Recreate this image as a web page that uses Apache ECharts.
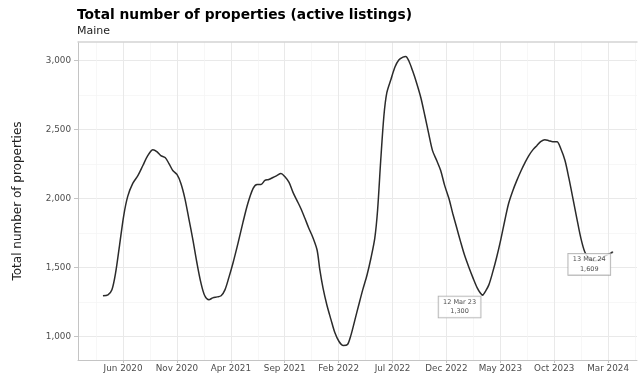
<!DOCTYPE html>
<html>
<head>
<meta charset="utf-8">
<script src="https://cdn.jsdelivr.net/npm/echarts@6/dist/echarts.min.js"></script>
<style>
html,body{margin:0;padding:0;background:#fff;}
#chart{width:644px;height:377px;}
</style>
</head>
<body>
<div id="chart"></div>
<script>
const dates = [
'2020-04-05','2020-04-19','2020-04-30','2020-05-11','2020-05-22','2020-06-03','2020-06-14','2020-06-28',
'2020-07-13','2020-07-27','2020-08-10','2020-08-25','2020-09-05','2020-09-16','2020-09-28','2020-10-09',
'2020-10-20','2020-11-01','2020-11-12','2020-11-23','2020-12-04','2020-12-16','2020-12-27','2021-01-08',
'2021-01-19','2021-01-31','2021-02-10','2021-02-21','2021-03-04','2021-03-15','2021-03-26','2021-04-07',
'2021-04-21','2021-05-05','2021-05-19','2021-06-03','2021-06-14','2021-06-25','2021-07-06','2021-07-17',
'2021-07-29','2021-08-10','2021-08-21','2021-09-01','2021-09-13','2021-09-24','2021-10-05','2021-10-16',
'2021-10-28','2021-11-08','2021-11-19','2021-12-01','2021-12-09','2021-12-18','2021-12-29','2022-01-10',
'2022-01-21','2022-02-02','2022-02-13','2022-02-24','2022-03-05','2022-03-17','2022-03-28','2022-04-08',
'2022-04-20','2022-05-01','2022-05-12','2022-05-20','2022-05-29','2022-06-07','2022-06-15','2022-06-27',
'2022-07-08','2022-07-19','2022-07-31','2022-08-08','2022-08-17','2022-08-28','2022-09-08','2022-09-20',
'2022-10-01','2022-10-12','2022-10-23','2022-11-04','2022-11-15','2022-11-26','2022-12-08','2022-12-19',
'2022-12-31','2023-01-11','2023-01-22','2023-02-03','2023-02-14','2023-02-25','2023-03-05','2023-03-12',
'2023-03-21','2023-03-30','2023-04-10','2023-04-21','2023-05-02','2023-05-14','2023-05-25','2023-06-06',
'2023-06-17','2023-06-29','2023-07-10','2023-07-21','2023-08-02','2023-08-13','2023-08-24','2023-09-05',
'2023-09-16','2023-09-27','2023-10-09','2023-10-20','2023-11-01','2023-11-12','2023-11-23','2023-12-04',
'2023-12-15','2023-12-27','2024-01-08','2024-01-25','2024-02-10','2024-02-25','2024-03-13'
];
const listings = [
1294,1301,1337,1467,1662,1878,2015,2109,
2167,2239,2311,2354,2340,2311,2297,2253,
2203,2174,2109,2001,1856,1698,1539,1387,
1294,1265,1279,1286,1294,1337,1424,1532,
1676,1828,1965,2073,2102,2102,2131,2138,
2152,2167,2181,2159,2116,2044,1986,1929,
1856,1784,1719,1626,1481,1351,1229,1121,
1027,962,933,940,1005,1121,1229,1337,
1445,1568,1712,1914,2275,2600,2766,2867,
2953,3004,3025,3030,2997,2924,2838,2729,
2600,2470,2347,2275,2203,2095,2001,1893,
1784,1683,1589,1503,1424,1351,1316,1300,
1330,1373,1467,1575,1698,1842,1965,2058,
2131,2203,2260,2311,2354,2383,2412,2426,
2419,2412,2412,2361,2275,2145,2001,1856,
1719,1611,1565,1548,1562,1588,1609
];
const tickLabels = ['Jun 2020','Nov 2020','Apr 2021','Sep 2021','Feb 2022','Jul 2022','Dec 2022','May 2023','Oct 2023','Mar 2024'];
const yTicks = [1000,1500,2000,2500,3000];
const monthNames = ['Jan','Feb','Mar','Apr','May','Jun','Jul','Aug','Sep','Oct','Nov','Dec'];

function monthIndex(s){
  const p = s.split('-').map(Number);
  const dim = new Date(p[0], p[1], 0).getDate();
  return (p[0]-2020)*12 + (p[1]-1) + (p[2]-1)/dim;
}
function labelMonth(lbl){
  const p = lbl.split(' ');
  return (Number(p[1])-2020)*12 + monthNames.indexOf(p[0]);
}
function fmtDate(s){
  const p = s.split('-');
  return p[2] + ' ' + monthNames[Number(p[1])-1] + ' ' + p[0].slice(2);
}
function fmtNum(v){ return v.toString().replace(/\B(?=(\d{3})+(?!\d))/g, ','); }

const xTickVals = tickLabels.map(labelMonth);
const xMinorVals = xTickVals.map(v=>v-2.5).concat([xTickVals[xTickVals.length-1]+2.5]).filter(v=>v>0.82 && v<52.68);
const yMinorVals = [750,1250,1750,2250,2750].filter(v=>v>828 && v<3135);

const lineData = dates.map((d,i)=>[monthIndex(d), listings[i]]);
let minI = -1;
for (let i=0;i<dates.length;i++){ if (dates[i] >= '2023-01-01' && dates[i] <= '2023-06-30' && (minI<0 || listings[i] < listings[minI])) minI = i; }
const lastI = dates.length-1;
const annot = [minI, lastI].map(i=>({
  value:[monthIndex(dates[i]), listings[i]],
  label:{formatter: '{a|' + fmtDate(dates[i]) + '}\n{a|' + fmtNum(listings[i]) + '}'}
}));

const chart = echarts.init(document.getElementById('chart'), null, {renderer:'canvas'});
const gridCol = '#e9e9e9';
const minorCol = '#f4f4f4';
const axisCol = '#c4c4c4';
const txtCol = '#4d4d4d';
const FONT = 'DejaVu Sans';
const XMIN = 0.82, XMAX = 52.68, YMIN = 828, YMAX = 3135;
chart.setOption({
  animation:false,
  backgroundColor:'#fff',
  title:{
    text:'Total number of properties (active listings)',
    subtext:'Maine',
    left:72, top:3,
    itemGap:4,
    textStyle:{fontFamily:FONT,fontSize:13.8,fontWeight:'bold',color:'#000'},
    subtextStyle:{fontFamily:FONT,fontSize:11,color:'#222'}
  },
  grid:{left:78,right:7,top:42,bottom:17,containLabel:false},
  xAxis:[{
    type:'value', min:XMIN, max:XMAX,
    axisLine:{show:true,lineStyle:{color:axisCol,width:1}},
    axisTick:{show:true,length:3,customValues:xTickVals,lineStyle:{color:axisCol}},
    axisLabel:{color:txtCol,fontFamily:FONT,fontSize:8.8,margin:4,customValues:xTickVals,
      formatter:function(v){const i=xTickVals.findIndex(t=>Math.abs(t-v)<1e-6); return i>=0?tickLabels[i]:'';}},
    splitLine:{show:true,lineStyle:{color:gridCol,width:1}}
  },{
    type:'value', min:XMIN, max:XMAX, position:'bottom',
    axisLine:{show:false}, axisLabel:{show:false,customValues:xMinorVals},
    axisTick:{show:false,customValues:xMinorVals},
    splitLine:{show:true,lineStyle:{color:minorCol,width:0.7}}
  },{
    type:'value', position:'top', min:XMIN, max:XMAX,
    axisLine:{show:true,lineStyle:{color:'#d4d4d4',width:1.5}},
    axisTick:{show:false}, axisLabel:{show:false}, splitLine:{show:false}
  }],
  yAxis:[{
    type:'value', min:YMIN, max:YMAX,
    name:'Total number of properties', nameLocation:'middle', nameGap:54, nameRotate:90,
    nameTextStyle:{fontFamily:FONT,fontSize:12,color:'#222'},
    axisLine:{show:true,lineStyle:{color:axisCol,width:1}},
    axisTick:{show:true,length:4,customValues:yTicks,lineStyle:{color:axisCol}},
    axisLabel:{color:txtCol,fontFamily:FONT,fontSize:8.8,margin:7,customValues:yTicks,
      formatter:function(v){return fmtNum(Math.round(v));}},
    splitLine:{show:true,lineStyle:{color:gridCol,width:1}}
  },{
    type:'value', min:YMIN, max:YMAX, position:'left',
    axisLine:{show:false}, axisLabel:{show:false,customValues:yMinorVals},
    axisTick:{show:false,customValues:yMinorVals},
    splitLine:{show:true,lineStyle:{color:minorCol,width:0.7}}
  }],
  series:[{
    type:'line', data:lineData, showSymbol:false, symbol:'none', smooth:0.3,
    xAxisIndex:0, yAxisIndex:0,
    lineStyle:{color:'#2b2b2b',width:1.5}, z:2
  },{
    type:'scatter', data:annot, symbolSize:2, itemStyle:{color:'#2b2b2b'}, z:5,
    xAxisIndex:0, yAxisIndex:0,
    label:{show:true, position:'left', distance:1, offset:[0,12],
      backgroundColor:'#fff', borderColor:'#9a9a9a', borderWidth:0.8,
      padding:[1,4,1,4], color:'#222',
      rich:{a:{fontFamily:FONT, fontSize:6.5, lineHeight:9.5, width:34, align:'center', color:'#222'}}}
  }]
});
</script>
</body>
</html>
